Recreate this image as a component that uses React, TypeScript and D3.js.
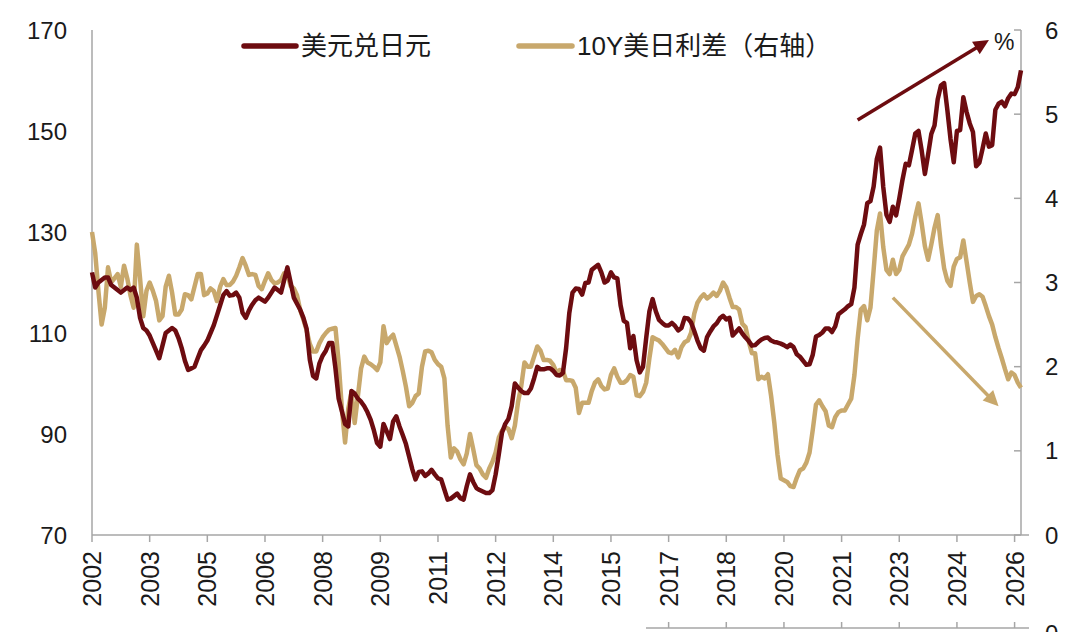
import * as d3 from "d3";

// 美元兑日元, monthly (left axis)
const usdJpy: number[] = [
  122, 119, 120, 120.5, 121, 121, 119.5, 119, 118.5, 118, 118.5, 119, 118.5, 119, 117, 113, 111, 110.5, 109.5, 108,
  106.5, 105, 107.5, 110, 110.5, 111, 110.5, 109, 107, 104.5, 102.7, 103, 103.3, 105, 106.6, 107.5, 108.5, 110, 111.5, 113.5,
  115.5, 117.5, 118.3, 117.4, 117.5, 118, 117, 114, 113, 114.5, 115.6, 116.5, 117, 116.6, 116.2, 117, 118, 119, 118.5, 118,
  120.5, 123, 120, 117, 115.8, 114.6, 113, 110.8, 104.7, 101.5, 101, 104, 105.5, 106.5, 108, 108, 103, 97, 94.5, 92,
  91.5, 98.5, 98, 97, 96.4, 95.5, 94.3, 92.8, 90.7, 88.2, 87.5, 92, 90.5, 89, 92.5, 93.5, 91.5, 89.8, 88, 85.5,
  83, 81, 82.5, 82.6, 81.7, 82.2, 82.9, 82, 81.2, 81, 79, 77, 77.2, 77.7, 78.2, 77.3, 77, 79.7, 82, 80.5,
  79.3, 78.9, 78.6, 78.3, 78.3, 78.9, 82, 86, 90.3, 92, 93, 95.5, 100, 99.2, 98.5, 98.1, 98.1, 99, 101, 103.3,
  102.8, 102.8, 103, 103, 102.5, 101.7, 101.6, 102.1, 107, 114, 118, 118.8, 118.7, 117.6, 119.9, 120, 122.5, 123, 123.5, 122,
  120, 120.4, 122, 121, 120.8, 115.5, 112.4, 112, 107, 109.4, 104.6, 102.2, 103.3, 109, 114.3, 116.7, 114.3, 112.6, 112, 111.5,
  111.5, 112, 111.4, 110.5, 111, 113, 112.9, 112.1, 110.4, 108.5, 107, 106.5, 109.2, 110.3, 111.3, 111.9, 112.9, 113.4, 112.7, 113,
  109.5, 110.2, 110.9, 109.9, 109.1, 108.4, 107.5, 107.6, 108.2, 108.7, 109, 109.1, 108.5, 108.2, 108.1, 107.9, 107.6, 107.2, 107.7, 107.2,
  105.8, 105.3, 104.5, 103.7, 103.8, 105.7, 109.3, 109.6, 110.1, 110.9, 110.9, 110.2, 111.3, 113.7, 114.2, 114.7, 115.3, 115.7, 119, 127.5,
  129.6, 131.5, 135.7, 136.1, 139, 144.5, 146.7, 138.9, 133.4, 132, 135, 133.3, 136.6, 140.3, 143.5, 143.2, 146.3, 149.5, 150, 146.1,
  141.5, 145.3, 149.4, 151.1, 156.3, 159, 159.5, 154.2, 148.4, 143.8, 150, 150.2, 156.7, 153.8, 151.5, 149.8, 143, 143.7, 146.5, 149.5,
  146.9, 147.2, 154.2, 155.4, 155.8, 154.9, 156.5, 157.4, 157.3, 158.7, 162,
];

// 10Y美日利差 (%), monthly, right axis
const spread10y: number[] = [
  3.6, 3.35, 2.9, 2.5, 2.7, 3.18, 3.0, 3.05, 3.1, 2.95, 3.2, 3.05, 2.85, 2.7, 3.45, 3.05, 2.6, 2.9, 3.0, 2.9,
  2.78, 2.55, 2.6, 2.95, 3.08, 2.88, 2.62, 2.62, 2.68, 2.86, 2.85, 2.8, 2.95, 3.1, 3.1, 2.85, 2.87, 2.93, 2.9, 2.78,
  2.95, 3.04, 2.97, 2.97, 3.01, 3.08, 3.18, 3.29, 3.2, 3.09, 3.1, 3.09, 2.96, 2.92, 3.02, 3.11, 3.03, 2.99, 3.0, 3.03,
  3.11, 3.1, 2.96, 2.93, 2.85, 2.67, 2.56, 2.43, 2.27, 2.18, 2.18, 2.28, 2.35, 2.4, 2.44, 2.45, 2.46, 2.05, 1.5, 1.1,
  1.5, 1.7, 1.33, 1.65, 1.98, 2.12, 2.05, 2.03, 2.0, 1.96, 2.05, 2.48, 2.28, 2.34, 2.38, 2.25, 2.12, 1.95, 1.76, 1.53,
  1.57, 1.65, 1.68, 2.0, 2.18, 2.19, 2.17, 2.08, 2.03, 2.0, 1.86, 1.3, 0.92, 1.03, 0.99, 0.9, 0.84, 0.97, 1.2, 1.02,
  0.83, 0.79, 0.72, 0.68, 0.79, 0.87, 0.98, 1.16, 1.24, 1.28, 1.26, 1.15, 1.3, 1.58, 1.77, 2.05, 2.0, 2.0, 2.12, 2.24,
  2.19, 2.08, 2.08, 2.07, 2.02, 1.93, 1.96, 1.95, 1.84, 1.84, 1.83, 1.75, 1.45, 1.57, 1.57, 1.57, 1.71, 1.81, 1.85, 1.77,
  1.73, 1.74, 1.9, 1.98, 1.88, 1.81, 1.81, 1.84, 1.9, 1.88, 1.66, 1.65, 1.7, 1.81, 2.1, 2.35, 2.33, 2.31, 2.27, 2.22,
  2.17, 2.16, 2.2, 2.11, 2.23, 2.29, 2.31, 2.4, 2.63, 2.76, 2.82, 2.86, 2.81, 2.84, 2.88, 2.84, 2.9, 3.0, 2.94, 2.82,
  2.71, 2.71, 2.68, 2.51, 2.47, 2.3, 2.16, 2.16, 1.85, 1.88, 1.86, 1.91, 1.65, 1.33, 0.95, 0.67, 0.65, 0.63, 0.58, 0.57,
  0.68, 0.77, 0.79, 0.86, 0.98, 1.25, 1.55, 1.6, 1.53, 1.47, 1.3, 1.28, 1.4, 1.46, 1.48, 1.48, 1.55, 1.62, 1.9, 2.33,
  2.68, 2.72, 2.55, 2.7, 3.15, 3.62, 3.82, 3.42, 3.15, 3.1, 3.27, 3.1, 3.15, 3.31, 3.38, 3.45, 3.58, 3.78, 3.94, 3.7,
  3.43, 3.27, 3.45, 3.65, 3.8, 3.45, 3.17, 3.02, 2.96, 3.19, 3.28, 3.3, 3.5, 3.25, 3.0, 2.77, 2.84, 2.86, 2.83, 2.72,
  2.6, 2.5, 2.35, 2.22, 2.1, 1.97, 1.85, 1.93, 1.9, 1.81, 1.75,
];

// x-axis: tick every 18 months from the first month
const xTickIdx = [0, 18, 36, 54, 72, 90, 108, 126, 144, 162, 180, 198, 216, 234, 252, 270, 288];
const xTickLabels = [
  "2002", "2003", "2005", "2006", "2008", "2009", "2011", "2012", "2014",
  "2015", "2017", "2018", "2020", "2021", "2023", "2024", "2026",
];
const leftTicks = [70, 90, 110, 130, 150, 170];
const rightTicks = [0, 1, 2, 3, 4, 5, 6];

// trend arrows, in data units: [monthIdx, value]
const upArrow = [[239, 152.2], [280, 168]];
const downArrow = [[250, 2.82], [283, 1.53]];

const RED = "#6d0c10";
const TAN = "#c8a86c";
const AXIS = "#a6a6a6";
const FONT = "'Liberation Sans', Arial, 'Noto Sans CJK SC', sans-serif";

export default function App() {
  const W = 1080;
  const H = 632;
  const left = 92;
  const right = 1021;
  const top = 30;
  const bottom = 535;

  const x = d3.scaleLinear().domain([0, usdJpy.length - 1]).range([left, right]);
  const yL = d3.scaleLinear().domain([70, 170]).range([bottom, top]);
  const yR = d3.scaleLinear().domain([0, 6]).range([bottom, top]);

  const lineL = d3.line<number>().x((_, i) => x(i)).y((d) => yL(d));
  const lineR = d3.line<number>().x((_, i) => x(i)).y((d) => yR(d));

  const arrowHead = (x1: number, y1: number, x2: number, y2: number, size: number) => {
    const a = Math.atan2(y2 - y1, x2 - x1);
    const p1 = [x2 - size * Math.cos(a - 0.45), y2 - size * Math.sin(a - 0.45)];
    const p2 = [x2 - size * Math.cos(a + 0.45), y2 - size * Math.sin(a + 0.45)];
    return `M${x2},${y2}L${p1[0]},${p1[1]}L${p2[0]},${p2[1]}Z`;
  };

  const ua = upArrow.map(([i, v]) => [x(i), yL(v)]);
  const da = downArrow.map(([i, v]) => [x(i), yR(v)]);

  return (
    <svg
      width={W}
      height={H}
      style={{ position: "absolute", left: 0, top: 0, background: "#fff" }}
      fontFamily={FONT}
    >
      {/* axes */}
      <line x1={left} x2={left} y1={top} y2={bottom} stroke={AXIS} strokeWidth={1.5} />
      <line x1={right} x2={right} y1={top} y2={bottom} stroke={AXIS} strokeWidth={1.5} />
      <line x1={left} x2={right + 8} y1={bottom} y2={bottom} stroke={AXIS} strokeWidth={1.5} />

      {leftTicks.map((t) => (
        <text key={t} x={67} y={yL(t)} dy="0.36em" textAnchor="end" fontSize={24} fill="#1a1a1a">
          {t}
        </text>
      ))}
      {rightTicks.map((t) => (
        <g key={t}>
          <line x1={right - 7} x2={right} y1={yR(t)} y2={yR(t)} stroke={AXIS} strokeWidth={1.5} />
          <text x={1045} y={yR(t)} dy="0.36em" textAnchor="start" fontSize={24} fill="#1a1a1a">
            {t}
          </text>
        </g>
      ))}
      {xTickIdx.map((t, k) => (
        <g key={t}>
          <line x1={x(t)} x2={x(t)} y1={bottom} y2={bottom + 7} stroke={AXIS} strokeWidth={1.5} />
          <text
            transform={`translate(${x(t)},${bottom + 16}) rotate(-90)`}
            dy="0.36em"
            textAnchor="end"
            fontSize={25}
            fill="#1a1a1a"
          >
            {xTickLabels[k]}
          </text>
        </g>
      ))}

      {/* cut-off axis of the chart below */}
      <line x1={646} x2={right + 8} y1={628} y2={628} stroke={AXIS} strokeWidth={1.5} />
      {xTickIdx.filter((t) => x(t) > 650).map((t) => (
        <line key={t} x1={x(t)} x2={x(t)} y1={622} y2={628} stroke={AXIS} strokeWidth={1.5} />
      ))}
      <text x={1045} y={642} textAnchor="start" fontSize={24} fill="#1a1a1a">0</text>

      {/* series */}
      <path d={lineR(spread10y) ?? ""} fill="none" stroke={TAN} strokeWidth={4.5} strokeLinejoin="round" />
      <path d={lineL(usdJpy) ?? ""} fill="none" stroke={RED} strokeWidth={4.5} strokeLinejoin="round" />

      {/* arrows */}
      <line x1={ua[0][0]} y1={ua[0][1]} x2={ua[1][0] - 8} y2={ua[1][1] + 5} stroke={RED} strokeWidth={3.5} />
      <path d={arrowHead(ua[0][0], ua[0][1], ua[1][0], ua[1][1], 17)} fill={RED} />
      <line x1={da[0][0]} y1={da[0][1]} x2={da[1][0] - 7} y2={da[1][1] - 7} stroke={TAN} strokeWidth={3.5} />
      <path d={arrowHead(da[0][0], da[0][1], da[1][0], da[1][1], 17)} fill={TAN} />

      <text x={994} y={50} fontSize={23} fill="#1a1a1a">%</text>

      {/* legend */}
      <line x1={244} x2={296} y1={46} y2={46} stroke={RED} strokeWidth={5.5} strokeLinecap="round" />
      <text x={301} y={46} dy="0.36em" fontSize={26} fill="#1a1a1a">美元兑日元</text>
      <line x1={519} x2={572} y1={46} y2={46} stroke={TAN} strokeWidth={5.5} strokeLinecap="round" />
      <text x={577} y={46} dy="0.36em" fontSize={26} fill="#1a1a1a">10Y美日利差（右轴）</text>
    </svg>
  );
}
